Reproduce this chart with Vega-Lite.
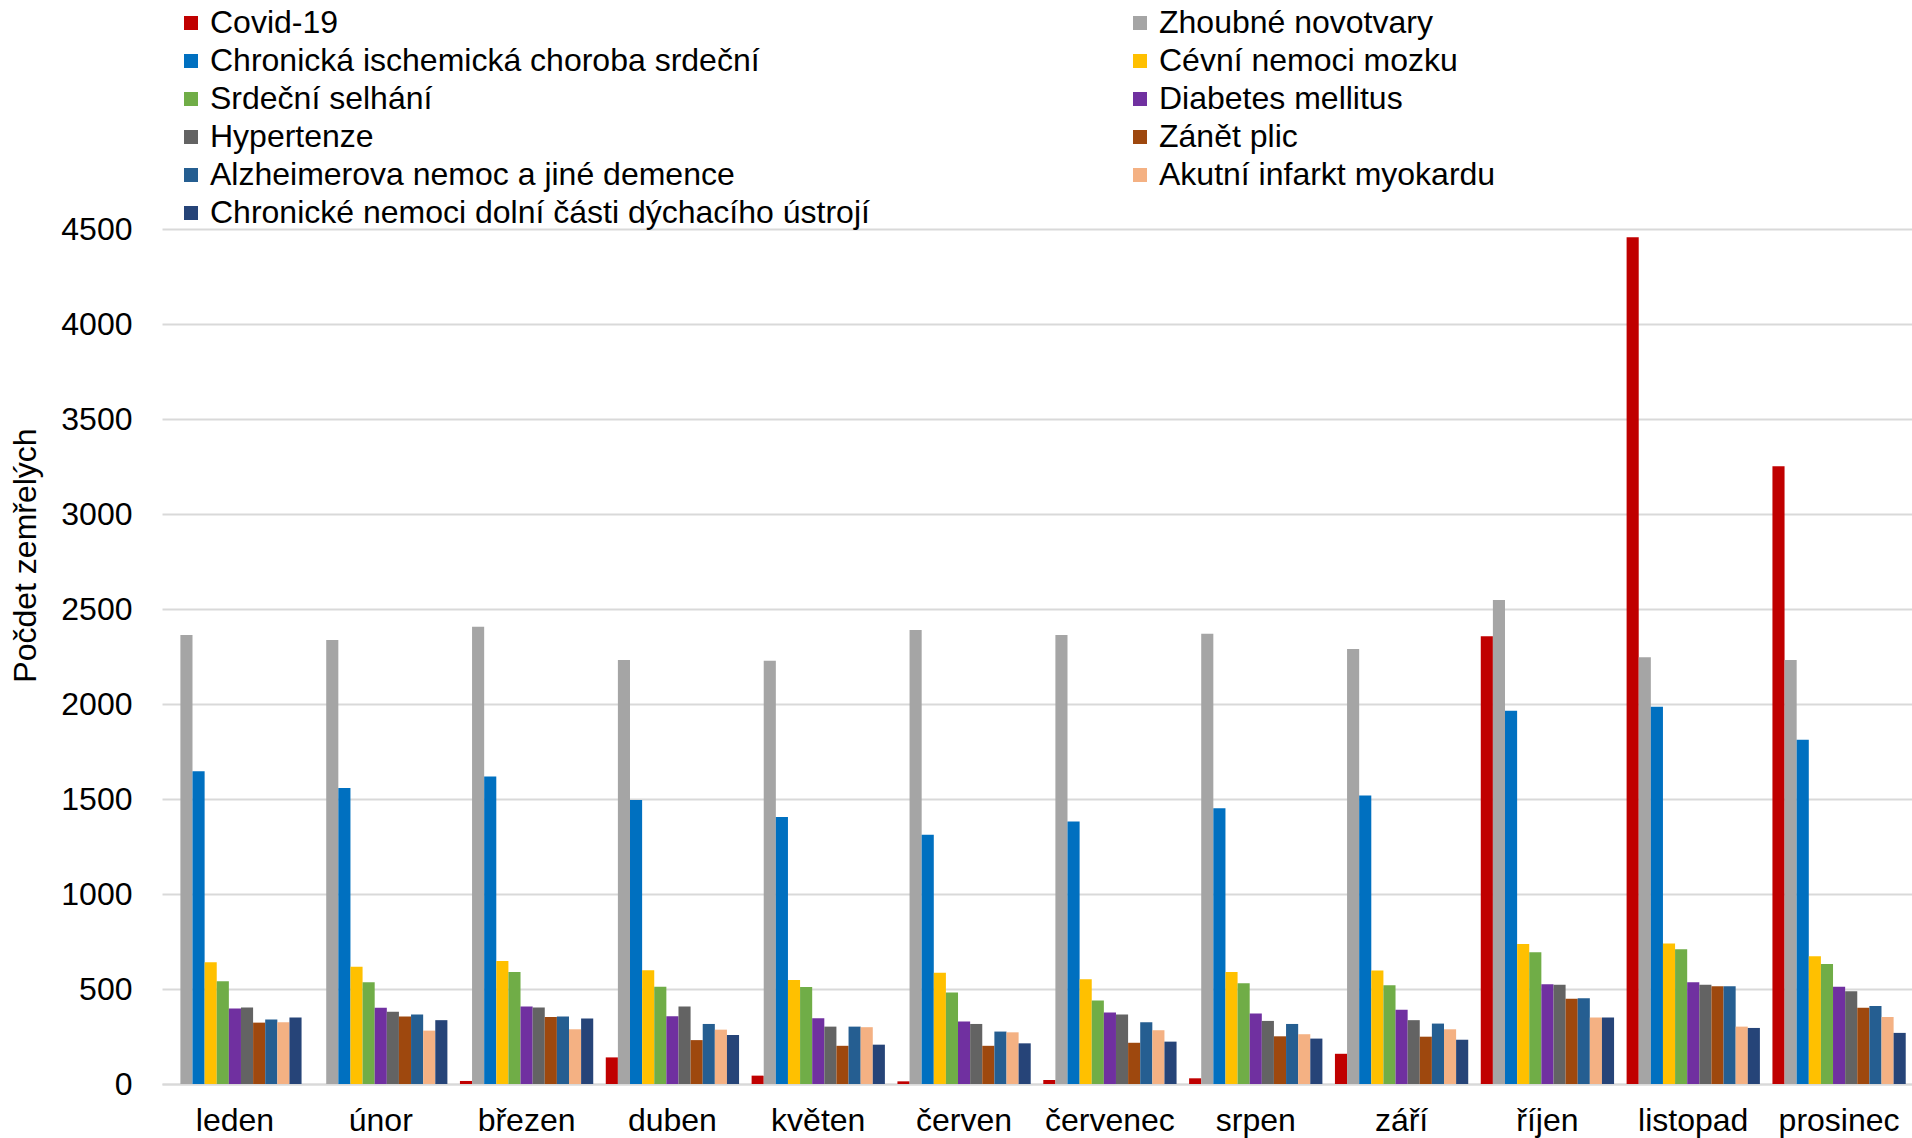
{
  "$schema": "https://vega.github.io/schema/vega-lite/v6.json",
  "width": 1750,
  "height": 855,
  "autosize": {"type": "none"},
  "padding": {"left": 162, "top": 229, "right": 0, "bottom": 54},
  "background": "white",
  "config": {"font": "Liberation Sans", "view": {"stroke": null}},
  "data": {"values": [
    {"m":"leden","c":"Covid-19","v":0},{"m":"leden","c":"Zhoubné novotvary","v":2363},{"m":"leden","c":"Chronická ischemická choroba srdeční","v":1646},{"m":"leden","c":"Cévní nemoci mozku","v":641},{"m":"leden","c":"Srdeční selhání","v":541},{"m":"leden","c":"Diabetes mellitus","v":398},{"m":"leden","c":"Hypertenze","v":403},{"m":"leden","c":"Zánět plic","v":323},{"m":"leden","c":"Alzheimerova nemoc a jiné demence","v":339},{"m":"leden","c":"Akutní infarkt myokardu","v":325},{"m":"leden","c":"Chronické nemoci dolní části dýchacího ústrojí","v":350},
    {"m":"únor","c":"Covid-19","v":0},{"m":"únor","c":"Zhoubné novotvary","v":2337},{"m":"únor","c":"Chronická ischemická choroba srdeční","v":1558},{"m":"únor","c":"Cévní nemoci mozku","v":617},{"m":"únor","c":"Srdeční selhání","v":535},{"m":"únor","c":"Diabetes mellitus","v":401},{"m":"únor","c":"Hypertenze","v":380},{"m":"únor","c":"Zánět plic","v":355},{"m":"únor","c":"Alzheimerova nemoc a jiné demence","v":366},{"m":"únor","c":"Akutní infarkt myokardu","v":281},{"m":"únor","c":"Chronické nemoci dolní části dýchacího ústrojí","v":336},
    {"m":"březen","c":"Covid-19","v":16},{"m":"březen","c":"Zhoubné novotvary","v":2407},{"m":"březen","c":"Chronická ischemická choroba srdeční","v":1619},{"m":"březen","c":"Cévní nemoci mozku","v":648},{"m":"březen","c":"Srdeční selhání","v":590},{"m":"březen","c":"Diabetes mellitus","v":408},{"m":"březen","c":"Hypertenze","v":403},{"m":"březen","c":"Zánět plic","v":353},{"m":"březen","c":"Alzheimerova nemoc a jiné demence","v":355},{"m":"březen","c":"Akutní infarkt myokardu","v":288},{"m":"březen","c":"Chronické nemoci dolní části dýchacího ústrojí","v":345},
    {"m":"duben","c":"Covid-19","v":140},{"m":"duben","c":"Zhoubné novotvary","v":2232},{"m":"duben","c":"Chronická ischemická choroba srdeční","v":1495},{"m":"duben","c":"Cévní nemoci mozku","v":599},{"m":"duben","c":"Srdeční selhání","v":512},{"m":"duben","c":"Diabetes mellitus","v":357},{"m":"duben","c":"Hypertenze","v":408},{"m":"duben","c":"Zánět plic","v":231},{"m":"duben","c":"Alzheimerova nemoc a jiné demence","v":316},{"m":"duben","c":"Akutní infarkt myokardu","v":286},{"m":"duben","c":"Chronické nemoci dolní části dýchacího ústrojí","v":258},
    {"m":"květen","c":"Covid-19","v":44},{"m":"květen","c":"Zhoubné novotvary","v":2228},{"m":"květen","c":"Chronická ischemická choroba srdeční","v":1405},{"m":"květen","c":"Cévní nemoci mozku","v":548},{"m":"květen","c":"Srdeční selhání","v":511},{"m":"květen","c":"Diabetes mellitus","v":346},{"m":"květen","c":"Hypertenze","v":302},{"m":"květen","c":"Zánět plic","v":201},{"m":"květen","c":"Alzheimerova nemoc a jiné demence","v":302},{"m":"květen","c":"Akutní infarkt myokardu","v":299},{"m":"květen","c":"Chronické nemoci dolní části dýchacího ústrojí","v":207},
    {"m":"červen","c":"Covid-19","v":14},{"m":"červen","c":"Zhoubné novotvary","v":2389},{"m":"červen","c":"Chronická ischemická choroba srdeční","v":1312},{"m":"červen","c":"Cévní nemoci mozku","v":585},{"m":"červen","c":"Srdeční selhání","v":482},{"m":"červen","c":"Diabetes mellitus","v":329},{"m":"červen","c":"Hypertenze","v":316},{"m":"červen","c":"Zánět plic","v":201},{"m":"červen","c":"Alzheimerova nemoc a jiné demence","v":276},{"m":"červen","c":"Akutní infarkt myokardu","v":272},{"m":"červen","c":"Chronické nemoci dolní části dýchacího ústrojí","v":214},
    {"m":"červenec","c":"Covid-19","v":21},{"m":"červenec","c":"Zhoubné novotvary","v":2363},{"m":"červenec","c":"Chronická ischemická choroba srdeční","v":1382},{"m":"červenec","c":"Cévní nemoci mozku","v":551},{"m":"červenec","c":"Srdeční selhání","v":440},{"m":"červenec","c":"Diabetes mellitus","v":376},{"m":"červenec","c":"Hypertenze","v":366},{"m":"červenec","c":"Zánět plic","v":217},{"m":"červenec","c":"Alzheimerova nemoc a jiné demence","v":325},{"m":"červenec","c":"Akutní infarkt myokardu","v":283},{"m":"červenec","c":"Chronické nemoci dolní části dýchacího ústrojí","v":223},
    {"m":"srpen","c":"Covid-19","v":30},{"m":"srpen","c":"Zhoubné novotvary","v":2370},{"m":"srpen","c":"Chronická ischemická choroba srdeční","v":1451},{"m":"srpen","c":"Cévní nemoci mozku","v":590},{"m":"srpen","c":"Srdeční selhání","v":530},{"m":"srpen","c":"Diabetes mellitus","v":371},{"m":"srpen","c":"Hypertenze","v":332},{"m":"srpen","c":"Zánět plic","v":251},{"m":"srpen","c":"Alzheimerova nemoc a jiné demence","v":316},{"m":"srpen","c":"Akutní infarkt myokardu","v":262},{"m":"srpen","c":"Chronické nemoci dolní části dýchacího ústrojí","v":239},
    {"m":"září","c":"Covid-19","v":159},{"m":"září","c":"Zhoubné novotvary","v":2290},{"m":"září","c":"Chronická ischemická choroba srdeční","v":1518},{"m":"září","c":"Cévní nemoci mozku","v":597},{"m":"září","c":"Srdeční selhání","v":520},{"m":"září","c":"Diabetes mellitus","v":391},{"m":"září","c":"Hypertenze","v":336},{"m":"září","c":"Zánět plic","v":249},{"m":"září","c":"Alzheimerova nemoc a jiné demence","v":318},{"m":"září","c":"Akutní infarkt myokardu","v":288},{"m":"září","c":"Chronické nemoci dolní části dýchacího ústrojí","v":233},
    {"m":"říjen","c":"Covid-19","v":2356},{"m":"říjen","c":"Zhoubné novotvary","v":2547},{"m":"říjen","c":"Chronická ischemická choroba srdeční","v":1965},{"m":"říjen","c":"Cévní nemoci mozku","v":737},{"m":"říjen","c":"Srdeční selhání","v":693},{"m":"říjen","c":"Diabetes mellitus","v":525},{"m":"říjen","c":"Hypertenze","v":523},{"m":"říjen","c":"Zánět plic","v":449},{"m":"říjen","c":"Alzheimerova nemoc a jiné demence","v":451},{"m":"říjen","c":"Akutní infarkt myokardu","v":350},{"m":"říjen","c":"Chronické nemoci dolní části dýchacího ústrojí","v":350},
    {"m":"listopad","c":"Covid-19","v":4456},{"m":"listopad","c":"Zhoubné novotvary","v":2246},{"m":"listopad","c":"Chronická ischemická choroba srdeční","v":1986},{"m":"listopad","c":"Cévní nemoci mozku","v":740},{"m":"listopad","c":"Srdeční selhání","v":709},{"m":"listopad","c":"Diabetes mellitus","v":535},{"m":"listopad","c":"Hypertenze","v":523},{"m":"listopad","c":"Zánět plic","v":514},{"m":"listopad","c":"Alzheimerova nemoc a jiné demence","v":514},{"m":"listopad","c":"Akutní infarkt myokardu","v":302},{"m":"listopad","c":"Chronické nemoci dolní části dýchacího ústrojí","v":295},
    {"m":"prosinec","c":"Covid-19","v":3251},{"m":"prosinec","c":"Zhoubné novotvary","v":2232},{"m":"prosinec","c":"Chronická ischemická choroba srdeční","v":1812},{"m":"prosinec","c":"Cévní nemoci mozku","v":673},{"m":"prosinec","c":"Srdeční selhání","v":631},{"m":"prosinec","c":"Diabetes mellitus","v":512},{"m":"prosinec","c":"Hypertenze","v":488},{"m":"prosinec","c":"Zánět plic","v":401},{"m":"prosinec","c":"Alzheimerova nemoc a jiné demence","v":410},{"m":"prosinec","c":"Akutní infarkt myokardu","v":353},{"m":"prosinec","c":"Chronické nemoci dolní části dýchacího ústrojí","v":269}
  ]},
  "mark": {"type": "bar"},
  "encoding": {
    "x": {
      "field": "m", "type": "nominal",
      "sort": ["leden","únor","březen","duben","květen","červen","červenec","srpen","září","říjen","listopad","prosinec"],
      "scale": {"paddingInner": 0.086, "paddingOuter": 0.043},
      "axis": {"title": null, "labelAngle": 0, "labelFontSize": 32, "labelColor": "#000", "labelPadding": 21, "ticks": false, "domainColor": "#d9d9d9", "domainWidth": 2, "grid": false}
    },
    "xOffset": {
      "field": "c", "type": "nominal",
      "sort": ["Covid-19","Zhoubné novotvary","Chronická ischemická choroba srdeční","Cévní nemoci mozku","Srdeční selhání","Diabetes mellitus","Hypertenze","Zánět plic","Alzheimerova nemoc a jiné demence","Akutní infarkt myokardu","Chronické nemoci dolní části dýchacího ústrojí"],
      "scale": {"paddingInner": 0, "paddingOuter": 0}
    },
    "y": {
      "field": "v", "type": "quantitative",
      "scale": {"domain": [0, 4500], "nice": false},
      "axis": {"title": "Počdet zemřelých", "values": [0,500,1000,1500,2000,2500,3000,3500,4000,4500], "format": "d", "labelFontSize": 32, "labelColor": "#000", "labelPadding": 30, "ticks": false, "domain": false, "gridColor": "#d9d9d9", "gridWidth": 2, "titleFontSize": 32, "titleFontWeight": "normal", "titleColor": "#000", "titleX": -137, "titleY": 326, "titleAngle": -90, "titleBaseline": "middle", "titleAlign": "center"}
    },
    "color": {
      "field": "c", "type": "nominal",
      "scale": {
        "domain": ["Covid-19","Chronická ischemická choroba srdeční","Srdeční selhání","Hypertenze","Alzheimerova nemoc a jiné demence","Chronické nemoci dolní části dýchacího ústrojí","Zhoubné novotvary","Cévní nemoci mozku","Diabetes mellitus","Zánět plic","Akutní infarkt myokardu"],
        "range": ["#C00000","#0070C0","#70AD47","#636363","#255E91","#264478","#A5A5A5","#FFC000","#7030A0","#9E480E","#F4B183"]
      },
      "legend": {"title": null, "orient": "none", "legendX": 13, "legendY": -222, "columns": 2, "columnPadding": 254, "rowPadding": 6, "symbolType": "square", "symbolSize": 196, "symbolStrokeWidth": 0, "labelFontSize": 32, "labelColor": "#000", "labelLimit": 1000, "labelOffset": 3, "padding": 0, "direction": "vertical"}
    }
  }
}
